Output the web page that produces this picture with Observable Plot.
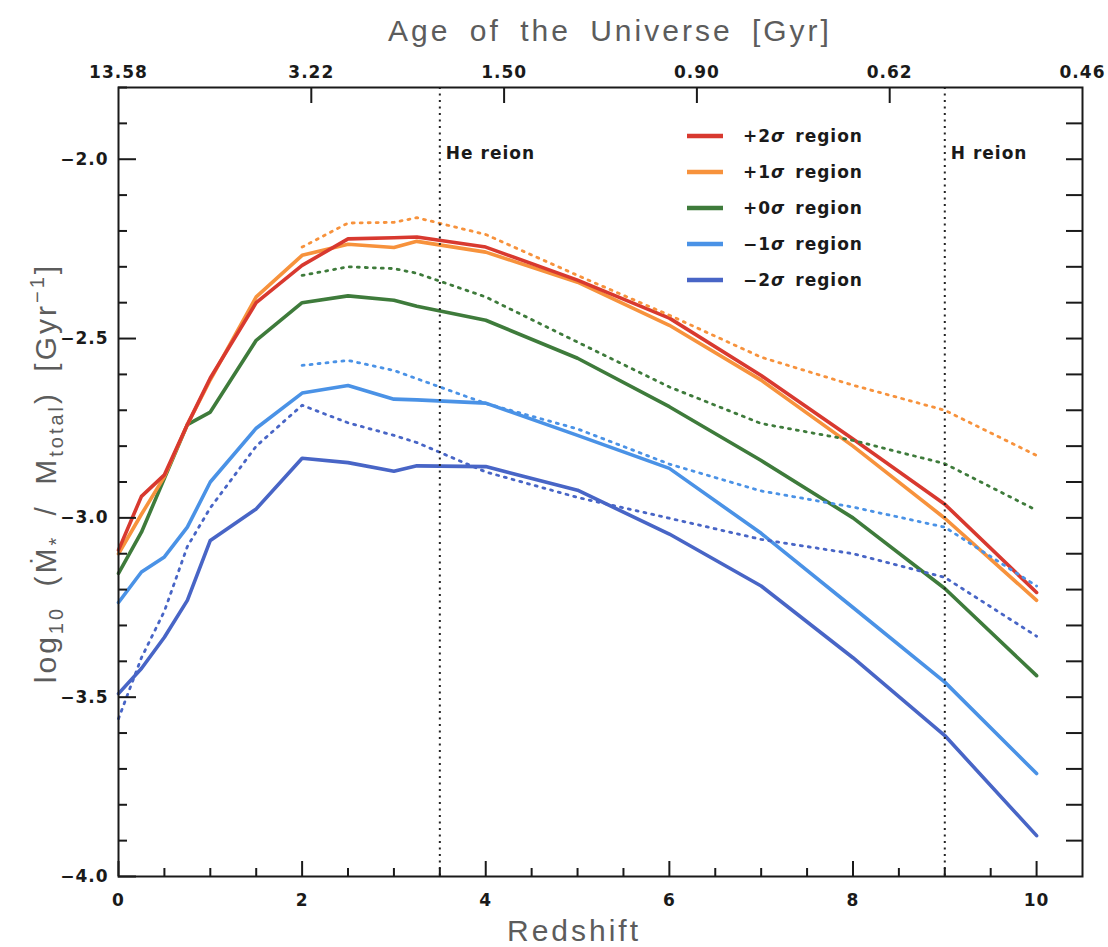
<!DOCTYPE html>
<html><head><meta charset="utf-8">
<script src="https://cdn.jsdelivr.net/npm/d3@7"></script>
<script src="https://cdn.jsdelivr.net/npm/@observablehq/plot@0.6"></script>
<style>
body{margin:0;background:#fff;}
#chart svg{display:block;background:#fff;}
</style></head><body><div id="chart"></div>
<script>
// ---- data ----
const redshift = [0, 0.25, 0.5, 0.75, 1, 1.5, 2, 2.5, 3, 3.25, 4, 5, 6, 7, 8, 9, 10];
const plus2Solid  = [-3.090, -2.940, -2.880, -2.740, -2.610, -2.400, -2.296, -2.222, -2.219, -2.217, -2.245, -2.337, -2.443, -2.603, -2.780, -2.962, -3.208];
const plus1Solid  = [-3.100, -2.990, -2.885, -2.740, -2.615, -2.384, -2.268, -2.237, -2.246, -2.229, -2.259, -2.343, -2.463, -2.616, -2.800, -3.001, -3.230];
const plus0Solid  = [-3.155, -3.040, -2.890, -2.740, -2.705, -2.505, -2.400, -2.381, -2.393, -2.410, -2.449, -2.555, -2.690, -2.840, -3.000, -3.197, -3.440];
const minus1Solid = [-3.236, -3.151, -3.109, -3.026, -2.900, -2.750, -2.652, -2.631, -2.669, -2.671, -2.680, -2.770, -2.862, -3.043, -3.250, -3.458, -3.713];
const minus2Solid = [-3.490, -3.420, -3.333, -3.230, -3.063, -2.975, -2.834, -2.846, -2.870, -2.855, -2.857, -2.923, -3.045, -3.190, -3.390, -3.607, -3.886];

const dottedZ = [2, 2.5, 3, 3.25, 4, 5, 6, 7, 8, 9, 10];
const plus1Dotted  = [-2.245, -2.178, -2.176, -2.163, -2.210, -2.324, -2.435, -2.552, -2.630, -2.700, -2.826];
const plus0Dotted  = [-2.324, -2.300, -2.305, -2.318, -2.384, -2.510, -2.635, -2.737, -2.784, -2.849, -2.979];
const minus1Dotted = [-2.575, -2.561, -2.589, -2.612, -2.681, -2.752, -2.850, -2.925, -2.970, -3.026, -3.190];
const minus2Dotted = [-3.560, -3.390, -3.260, -3.080, -2.972, -2.800, -2.686, -2.735, -2.770, -2.790, -2.872, -2.943, -3.001, -3.060, -3.100, -3.166, -3.330];

const seriesNames  = ["+2σ region", "+1σ region", "+0σ region", "−1σ region", "−2σ region"];
const seriesColors = ["#d8392f", "#f7923c", "#3e7b3b", "#4a92e6", "#4865c6"];

const reionZ = [3.5, 9];
const reionLabels = ["He reion", "H reion"];

const xMajorTicks = [0, 2, 4, 6, 8, 10];
const yMajorTicks = [-4.0, -3.5, -3.0, -2.5, -2.0];
const ageTickZ = [0, 2.1, 4.2, 6.3, 8.4, 10.5];
const ageLabels = ["13.58", "3.22", "1.50", "0.90", "0.62", "0.46"];

// ---- layout ----
const W = 1108, H = 947;
const mTop = 87, mRight = 26, mBottom = 71, mLeft = 118;
const innerW = W - mLeft - mRight;
const innerH = H - mTop - mBottom;

const solidSets = [plus2Solid, plus1Solid, plus0Solid, minus1Solid, minus2Solid];
const solidRows = solidSets.map(vals => redshift.map((z, i) => ({z, v: vals[i]})));
const dottedRows = [
  {k: 1, rows: dottedZ.map((z, i) => ({z, v: plus1Dotted[i]}))},
  {k: 2, rows: dottedZ.map((z, i) => ({z, v: plus0Dotted[i]}))},
  {k: 3, rows: dottedZ.map((z, i) => ({z, v: minus1Dotted[i]}))},
  {k: 4, rows: redshift.map((z, i) => ({z, v: minus2Dotted[i]}))}
];
const reionRows = reionZ.map((z, i) => ({z, label: reionLabels[i]}));
const ageRows = ageTickZ.map((z, i) => ({z, label: ageLabels[i]}));

const xMinor = d3.range(1, 21).map(i => i * 0.5).filter(v => !xMajorTicks.includes(v));
const yMinor = d3.range(0, 23).map(i => Math.round((-4 + i * 0.1) * 10) / 10).filter(v => !yMajorTicks.includes(v));
const yAll = d3.range(1, 22).map(i => Math.round((-4 + i * 0.1) * 10) / 10);

const tickStyle = {stroke: "#1a1a1a", strokeWidth: 2};
const labelStyle = {fontSize: 17, fontWeight: "bold", fill: "#1a1a1a", lineAnchor: "middle"};
const fmt1 = d3.format(".1f");

const plot = Plot.plot({
  width: W, height: H,
  marginTop: mTop, marginRight: mRight, marginBottom: mBottom, marginLeft: mLeft,
  style: {fontFamily: "DejaVu Sans", background: "#fff", letterSpacing: "1px"},
  x: {domain: [0, 10.5], axis: null},
  y: {domain: [-4.0, -1.8], axis: null},
  marks: [
    // solid lines (draw -2σ first, +2σ on top)
    ...[4, 3, 2, 1, 0].map(k => Plot.line(solidRows[k], {x: "z", y: "v", stroke: seriesColors[k], strokeWidth: 3.6, strokeLinejoin: "round"})),
    // dotted lines
    ...dottedRows.map(d => Plot.line(d.rows, {x: "z", y: "v", stroke: seriesColors[d.k], strokeWidth: 2.8, strokeDasharray: "2,6"})),
    // reionization markers
    Plot.ruleX(reionZ, {stroke: "#222", strokeWidth: 2, strokeDasharray: "2,4.5"}),
    Plot.text(reionRows, {x: "z", text: "label", frameAnchor: "top", dy: 66, dx: 6, textAnchor: "start", ...labelStyle}),
    // frame
    Plot.frame({stroke: "#1a1a1a", strokeWidth: 2}),
    // inward ticks
    Plot.tickX(xMajorTicks, {x: d => d, insetTop: innerH - 15, ...tickStyle}),
    Plot.tickX(xMinor, {x: d => d, insetTop: innerH - 8, ...tickStyle}),
    Plot.tickX(ageTickZ.slice(1, -1), {x: d => d, insetBottom: innerH - 16, ...tickStyle}),
    Plot.tickY(yMajorTicks, {y: d => d, insetRight: innerW - 18, ...tickStyle}),
    Plot.tickY(yMinor, {y: d => d, insetRight: innerW - 9, ...tickStyle}),
    Plot.tickY(yAll, {y: d => d, insetLeft: innerW - 16, ...tickStyle}),
    // tick labels
    Plot.text(xMajorTicks, {x: d => d, text: d3.format("d"), frameAnchor: "bottom", dy: 24, ...labelStyle}),
    Plot.text(yMajorTicks, {y: d => d, text: fmt1, frameAnchor: "left", dx: -10, textAnchor: "end", ...labelStyle}),
    Plot.text(ageRows, {x: "z", text: "label", frameAnchor: "top", dy: -15, ...labelStyle})
  ]
});

const svg = d3.select(plot);

// axis titles
const titleStyle = t => t.attr("font-family", "Liberation Sans").attr("font-size", 30)
  .attr("fill", "#5c5c5c").attr("text-anchor", "middle")
  .style("letter-spacing", "3px").style("word-spacing", "8px");
svg.append("text").call(titleStyle).attr("x", 610).attr("y", 41).text("Age of the Universe [Gyr]");
svg.append("text").call(titleStyle).attr("x", 574).attr("y", 941).text("Redshift");

// y-axis title with sub/superscripts
const yt = svg.append("text").call(titleStyle)
  .attr("transform", "translate(56,473) rotate(-90)");
yt.append("tspan").text("log");
yt.append("tspan").attr("font-size", 20).attr("dy", 7).text("10");
yt.append("tspan").attr("dy", -7).text(" (Ṁ");
yt.append("tspan").attr("font-size", 20).attr("dy", 7).text("*");
yt.append("tspan").attr("dy", -7).text(" / M");
yt.append("tspan").attr("font-size", 20).attr("dy", 7).text("total");
yt.append("tspan").attr("dy", -7).text(") [Gyr");
yt.append("tspan").attr("font-size", 20).attr("dy", -12).text("−1");
yt.append("tspan").attr("dy", 12).text("]");

// legend inside the frame
const leg = svg.append("g")
  .attr("font-family", "DejaVu Sans")
  .attr("font-size", 17)
  .attr("font-weight", "bold")
  .attr("fill", "#1a1a1a")
  .attr("text-anchor", "start")
  .style("letter-spacing", "1px")
  .style("word-spacing", "3px");
seriesNames.forEach((name, i) => {
  const y = 136 + i * 36;
  leg.append("line").attr("x1", 687).attr("x2", 723).attr("y1", y).attr("y2", y)
    .attr("stroke", seriesColors[i]).attr("stroke-width", 4.5);
  const [pre, post] = name.split("σ");
  const t = leg.append("text").attr("x", 743).attr("y", y).attr("dy", "0.35em");
  t.append("tspan").text(pre);
  t.append("tspan").attr("font-style", "italic").text("σ");
  t.append("tspan").text(post);
});

document.getElementById("chart").appendChild(plot);
</script></body></html>
